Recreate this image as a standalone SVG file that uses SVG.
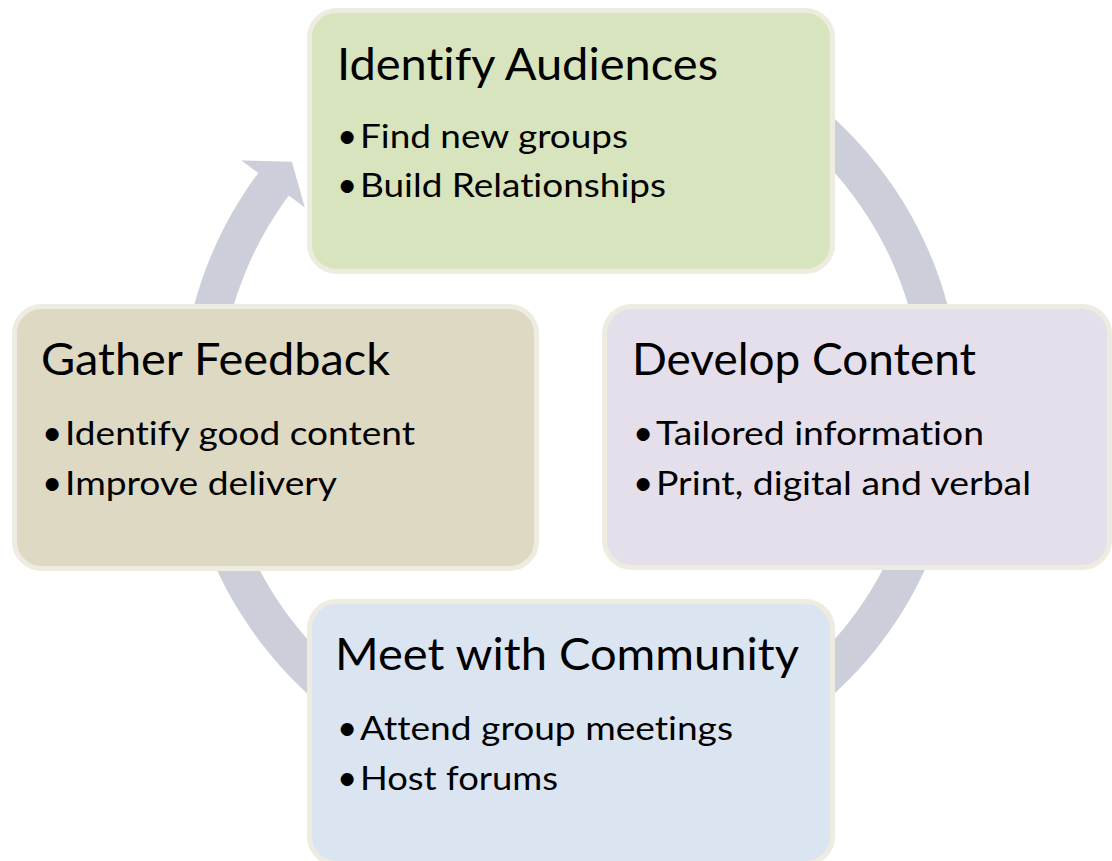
<svg xmlns="http://www.w3.org/2000/svg" width="1112" height="861" viewBox="0 0 1112 861">
  <style>
    text { font-family: Lato, "Open Sans", "Liberation Sans", sans-serif; fill: #000000; font-variant-ligatures: none; font-feature-settings: "liga" 0; }
    .box { stroke: #EEECE1; stroke-width: 5; }
    .title { font-size: 45px; }
    .item { font-size: 32.5px; }
    .dot { font-size: 35px; }
  </style>

  <!-- cycle ring with arrowhead, drawn under the boxes -->
  <g id="connectors">
    <path id="cycle-arrow" fill="#CCCFDA"
          d="M 330.9 98.7
             A 390 390 0 1 1 258.3 172.9
             L 241.5 160.4
             L 291.9 161.8
             L 304.8 207.6
             L 288.8 195.6
             A 352 352 0 1 0 354.3 128.6
             Z"/>
  </g>

  <g id="identify-audiences">
    <rect class="box" x="309.5" y="10.5" width="523" height="261" rx="27" fill="#D7E4BD"/>
    <text class="title" x="337" y="80" textLength="381" lengthAdjust="spacingAndGlyphs">Identify Audiences</text>
    <text class="dot" x="337" y="148">•</text>
    <text class="item" x="360" y="148" textLength="268" lengthAdjust="spacingAndGlyphs">Find new groups</text>
    <text class="dot" x="337" y="197">•</text>
    <text class="item" x="360" y="197" textLength="306" lengthAdjust="spacingAndGlyphs">Build Relationships</text>
  </g>

  <g id="develop-content">
    <rect class="box" x="604.5" y="306.5" width="505" height="261" rx="27" fill="#E5DFEC"/>
    <text class="title" x="632" y="375" textLength="344" lengthAdjust="spacingAndGlyphs">Develop Content</text>
    <text class="dot" x="633" y="445">•</text>
    <text class="item" x="656" y="445" textLength="328" lengthAdjust="spacingAndGlyphs">Tailored information</text>
    <text class="dot" x="633" y="495">•</text>
    <text class="item" x="656" y="495" textLength="375" lengthAdjust="spacingAndGlyphs">Print, digital and verbal</text>
  </g>

  <g id="meet-with-community">
    <rect class="box" x="309.5" y="601.5" width="523" height="262" rx="27" fill="#DBE5F1"/>
    <text class="title" x="335" y="670" textLength="464" lengthAdjust="spacingAndGlyphs">Meet with Community</text>
    <text class="dot" x="337" y="740">•</text>
    <text class="item" x="360" y="740" textLength="373" lengthAdjust="spacingAndGlyphs">Attend group meetings</text>
    <text class="dot" x="337" y="790">•</text>
    <text class="item" x="360" y="790" textLength="198" lengthAdjust="spacingAndGlyphs">Host forums</text>
  </g>

  <g id="gather-feedback">
    <rect class="box" x="14.5" y="306.5" width="522" height="262" rx="27" fill="#DDD9C3"/>
    <text class="title" x="41" y="375" textLength="349" lengthAdjust="spacingAndGlyphs">Gather Feedback</text>
    <text class="dot" x="42" y="445">•</text>
    <text class="item" x="65" y="445" textLength="350" lengthAdjust="spacingAndGlyphs">Identify good content</text>
    <text class="dot" x="42" y="495">•</text>
    <text class="item" x="65" y="495" textLength="272" lengthAdjust="spacingAndGlyphs">Improve delivery</text>
  </g>
</svg>
